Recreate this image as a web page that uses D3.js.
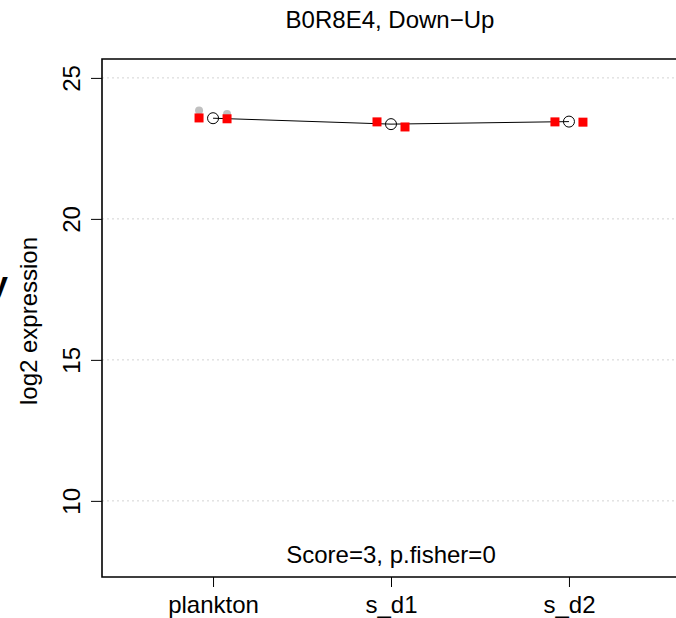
<!DOCTYPE html>
<html><head><meta charset="utf-8">
<script src="https://cdn.jsdelivr.net/npm/d3@7"></script>
<style>body{margin:0;background:#fff;overflow:hidden}svg{display:block}text{font-family:"Liberation Sans",Arial,sans-serif}</style>
</head><body>
<script>
const title = "B0R8E4, Down\u2212Up";
const subtitle = "Score=3, p.fisher=0";
const yLabel = "log2 expression";
const categories = ["plankton", "s_d1", "s_d2"];
const meanValues = [23.57, 23.36, 23.45];
const rep1Values = [23.58, 23.44, 23.44];
const rep2Values = [23.55, 23.26, 23.43];
const grayCategory = ["plankton", "plankton"];
const grayRep = [0, 1];
const grayValues = [23.84, 23.72];
const yTicks = [10, 15, 20, 25];

const W = 676, H = 618;
const svg = d3.select("body").append("svg").attr("width", W).attr("height", H);
const mLeft = 102, mTop = 59, mBottom = 577, mRight = 680;
const x = d3.scaleLinear().domain([0.376, 3.624]).range([mLeft, mRight]);
const y = d3.scaleLinear().domain([7.3, 25.67]).range([mBottom, mTop]);
const catX = c => x(categories.indexOf(c) + 1);
const off = 14;

// grid
svg.append("g").selectAll("line").data(yTicks).join("line")
  .attr("x1", mLeft).attr("x2", W).attr("y1", d => y(d)).attr("y2", d => y(d))
  .attr("stroke", "#d3d3d3").attr("stroke-width", 1).attr("stroke-dasharray", "2,3");

// y axis
const yAxis = svg.append("g").attr("transform", `translate(${mLeft},0)`)
  .call(d3.axisLeft(y).tickValues(yTicks).tickSize(11).tickFormat(d3.format("d")));
yAxis.select(".domain").remove();
yAxis.selectAll(".tick line").attr("stroke", "#000");
yAxis.selectAll(".tick text").attr("x", null).attr("dy", null)
  .attr("transform", "translate(-22,0) rotate(-90)")
  .attr("text-anchor", "middle").attr("font-size", 24).attr("fill", "#000")
  .attr("font-family", '"Liberation Sans",Arial,sans-serif');

// x axis
const xAxis = svg.append("g").attr("transform", `translate(0,${mBottom})`)
  .call(d3.axisBottom(x).tickValues([1, 2, 3]).tickSize(10).tickFormat(d => categories[d - 1]));
xAxis.select(".domain").remove();
xAxis.selectAll(".tick line").attr("stroke", "#000");
xAxis.selectAll(".tick text").attr("y", 36).attr("dy", null)
  .attr("font-size", 24).attr("fill", "#000")
  .attr("font-family", '"Liberation Sans",Arial,sans-serif');

// box (right side lies beyond the visible area)
svg.append("path")
  .attr("d", `M${W + 2},${mTop}H${mLeft}V${mBottom}H${W + 2}`)
  .attr("fill", "none").attr("stroke", "#000").attr("stroke-width", 1.6);

// gray points
svg.append("g").selectAll("circle").data(grayValues).join("circle")
  .attr("cx", (d, i) => catX(grayCategory[i]) + (grayRep[i] === 0 ? -off : off))
  .attr("cy", d => y(d)).attr("r", 4).attr("fill", "#c0c0c0");

// mean line
const line = d3.line().x((d, i) => x(i + 1)).y(d => y(d));
svg.append("path").datum(meanValues).attr("d", line)
  .attr("fill", "none").attr("stroke", "#000").attr("stroke-width", 1);

// red squares
const sq = 9;
const reps = [rep1Values, rep2Values];
reps.forEach((vals, r) => {
  svg.append("g").selectAll("rect").data(vals).join("rect")
    .attr("x", (d, i) => x(i + 1) + (r === 0 ? -off : off) - sq / 2)
    .attr("y", d => y(d) - sq / 2).attr("width", sq).attr("height", sq)
    .attr("fill", "#ff0000");
});

// mean circles
svg.append("g").selectAll("circle").data(meanValues).join("circle")
  .attr("cx", (d, i) => x(i + 1)).attr("cy", d => y(d)).attr("r", 5.5)
  .attr("fill", "none").attr("stroke", "#000").attr("stroke-width", 1);

// texts
svg.append("text").attr("x", 390).attr("y", 28).attr("text-anchor", "middle")
  .attr("font-size", 24).text(title);
svg.append("text").attr("x", 391).attr("y", 563).attr("text-anchor", "middle")
  .attr("font-size", 24).text(subtitle);
svg.append("text").attr("transform", "translate(37,321) rotate(-90)").attr("text-anchor", "middle")
  .attr("font-size", 24).text(yLabel);
// clipped fragment from neighbouring panel (cut off in the reference too)
svg.append("text").attr("x", -11).attr("y", 295).attr("font-size", 34).attr("font-weight", "bold").text("y");
</script>
</body></html>
